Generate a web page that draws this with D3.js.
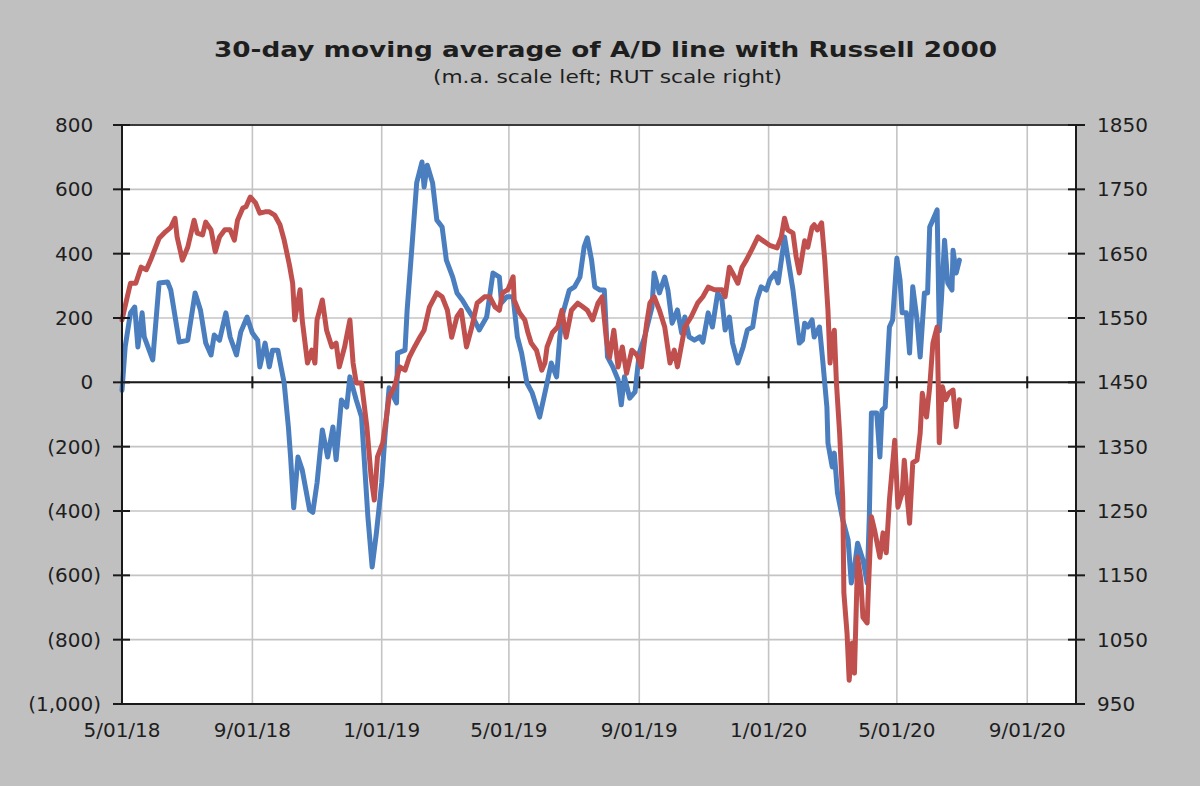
<!DOCTYPE html>
<meta charset="utf-8">
<script src="https://d3js.org/d3.v7.min.js"></script>
<style>
  body { margin: 0; background: #c0c0c0; }
  text { font-family: "DejaVu Sans", Verdana, sans-serif; fill: #1e1e1e; }
</style>
<div id="chart"></div>
<script>

// ---- data ----
var leftTicks  = [800, 600, 400, 200, 0, -200, -400, -600, -800, -1000];
var rightTicks = [1850, 1750, 1650, 1550, 1450, 1350, 1250, 1150, 1050, 950];
var dateTicks  = ["2018-05-01", "2018-09-01", "2019-01-01", "2019-05-01",
                  "2019-09-01", "2020-01-01", "2020-05-01", "2020-09-01"];

// 30-day moving average of the A/D line (left scale)
var adDates = [
  "2018-05-01","2018-05-04","2018-05-09","2018-05-13","2018-05-16","2018-05-20","2018-05-22","2018-05-30",
  "2018-06-05","2018-06-13","2018-06-16","2018-06-24","2018-07-02","2018-07-09","2018-07-14","2018-07-19",
  "2018-07-24","2018-07-27","2018-08-01","2018-08-07","2018-08-11","2018-08-17","2018-08-21","2018-08-27",
  "2018-09-01","2018-09-06","2018-09-08","2018-09-13","2018-09-17","2018-09-20","2018-09-25","2018-09-28",
  "2018-10-01","2018-10-05","2018-10-07","2018-10-10","2018-10-14","2018-10-18","2018-10-25","2018-10-28",
  "2018-11-01","2018-11-06","2018-11-11","2018-11-16","2018-11-19","2018-11-24","2018-11-29","2018-12-02",
  "2018-12-08","2018-12-13","2018-12-19","2018-12-23","2018-12-27","2019-01-01","2019-01-04","2019-01-08",
  "2019-01-15","2019-01-16","2019-01-23","2019-01-25","2019-01-30","2019-02-03","2019-02-08","2019-02-10",
  "2019-02-13","2019-02-18","2019-02-22","2019-02-27","2019-03-03","2019-03-09","2019-03-13","2019-03-18",
  "2019-03-22","2019-03-28","2019-04-03","2019-04-10","2019-04-16","2019-04-22","2019-04-24","2019-04-29",
  "2019-05-05","2019-05-09","2019-05-13","2019-05-18","2019-05-23","2019-05-30","2019-06-06","2019-06-10",
  "2019-06-15","2019-06-18","2019-06-21","2019-06-27","2019-07-02","2019-07-07","2019-07-11","2019-07-14",
  "2019-07-18","2019-07-21","2019-07-26","2019-07-30","2019-08-02","2019-08-07","2019-08-12","2019-08-15",
  "2019-08-18","2019-08-23","2019-08-28","2019-09-01","2019-09-06","2019-09-13","2019-09-15","2019-09-20",
  "2019-09-25","2019-09-28","2019-10-02","2019-10-07","2019-10-11","2019-10-14","2019-10-18","2019-10-23",
  "2019-10-28","2019-10-31","2019-11-05","2019-11-09","2019-11-14","2019-11-18","2019-11-21","2019-11-25",
  "2019-11-28","2019-12-03","2019-12-08","2019-12-12","2019-12-17","2019-12-21","2019-12-25","2019-12-30",
  "2020-01-02","2020-01-07","2020-01-10","2020-01-14","2020-01-16","2020-01-19","2020-01-24","2020-01-27",
  "2020-01-30","2020-02-02","2020-02-04","2020-02-07","2020-02-11","2020-02-13","2020-02-18","2020-02-21",
  "2020-02-25","2020-02-26","2020-03-01","2020-03-03","2020-03-06","2020-03-11","2020-03-16","2020-03-19",
  "2020-03-22","2020-03-25","2020-03-30","2020-04-03","2020-04-05","2020-04-07","2020-04-12","2020-04-15",
  "2020-04-17","2020-04-20","2020-04-22","2020-04-24","2020-04-27","2020-05-01","2020-05-04","2020-05-06",
  "2020-05-10","2020-05-13","2020-05-16","2020-05-20","2020-05-23","2020-05-27","2020-05-30","2020-06-01",
  "2020-06-04","2020-06-08","2020-06-10","2020-06-12","2020-06-15","2020-06-18","2020-06-22","2020-06-23",
  "2020-06-26","2020-06-29"];
var adValues = [
  -25,110,216,234,110,216,141,70,
  309,312,287,125,131,278,225,122,
  85,147,131,216,141,85,156,203,
  153,131,48,122,48,100,100,48,
  -2,-140,-230,-390,-232,-272,-397,-404,
  -313,-148,-232,-139,-241,-55,-77,17,
  -55,-108,-419,-574,-468,-313,-170,-17,
  -64,91,100,225,442,620,685,607,
  675,620,505,483,380,327,278,256,
  234,203,163,203,340,327,247,266,
  266,141,91,-2,-33,-108,-2,60,
  17,141,216,287,297,327,421,449,
  380,297,287,287,79,48,8,-70,
  17,-49,-30,91,141,234,340,278,
  327,287,184,225,153,203,141,131,
  141,125,216,172,278,256,163,203,
  122,60,110,163,172,256,297,287,
  318,340,309,402,452,390,287,203,
  122,131,184,172,194,141,172,70,
  -77,-189,-263,-220,-344,-428,-490,-624,
  -574,-500,-552,-624,-419,-95,-95,-232,
  -86,-77,48,172,194,386,318,216,
  216,91,297,194,79,278,278,483,
  505,536,160,256,442,309,287,411,
  340,380];

// Russell 2000 (right scale)
var rutDates = [
  "2018-05-01","2018-05-06","2018-05-09","2018-05-14","2018-05-19","2018-05-24","2018-05-28","2018-06-05",
  "2018-06-11","2018-06-16","2018-06-20","2018-06-22","2018-06-27","2018-07-02","2018-07-08","2018-07-11",
  "2018-07-16","2018-07-19","2018-07-24","2018-07-28","2018-08-01","2018-08-06","2018-08-11","2018-08-15",
  "2018-08-18","2018-08-23","2018-08-26","2018-08-30","2018-09-04","2018-09-08","2018-09-13","2018-09-17",
  "2018-09-22","2018-09-27","2018-10-01","2018-10-06","2018-10-09","2018-10-11","2018-10-16","2018-10-18",
  "2018-10-23","2018-10-27","2018-10-30","2018-11-01","2018-11-06","2018-11-10","2018-11-15","2018-11-19",
  "2018-11-22","2018-11-27","2018-12-02","2018-12-05","2018-12-08","2018-12-13","2018-12-18","2018-12-22",
  "2018-12-25","2018-12-28","2019-01-02","2019-01-06","2019-01-08","2019-01-13","2019-01-18","2019-01-23",
  "2019-01-27","2019-02-01","2019-02-06","2019-02-10","2019-02-15","2019-02-22","2019-02-27","2019-03-04",
  "2019-03-08","2019-03-13","2019-03-17","2019-03-22","2019-03-27","2019-04-01","2019-04-08","2019-04-13",
  "2019-04-18","2019-04-22","2019-04-25","2019-04-30","2019-05-05","2019-05-06","2019-05-11","2019-05-16",
  "2019-05-19","2019-05-22","2019-05-27","2019-06-01","2019-06-04","2019-06-06","2019-06-11","2019-06-16",
  "2019-06-20","2019-06-24","2019-06-29","2019-07-05","2019-07-10","2019-07-14","2019-07-19","2019-07-24",
  "2019-07-28","2019-08-01","2019-08-04","2019-08-08","2019-08-12","2019-08-16","2019-08-20","2019-08-25",
  "2019-08-30","2019-09-03","2019-09-08","2019-09-11","2019-09-15","2019-09-20","2019-09-25","2019-09-30",
  "2019-10-04","2019-10-07","2019-10-14","2019-10-20","2019-10-26","2019-10-31","2019-11-05","2019-11-11",
  "2019-11-18","2019-11-21","2019-11-25","2019-11-28","2019-12-03","2019-12-07","2019-12-11","2019-12-16",
  "2019-12-22","2019-12-26","2020-01-02","2020-01-09","2020-01-13","2020-01-16","2020-01-19","2020-01-24",
  "2020-01-27","2020-01-30","2020-02-04","2020-02-07","2020-02-11","2020-02-13","2020-02-16","2020-02-20",
  "2020-02-23","2020-02-26","2020-02-28","2020-03-01","2020-03-03","2020-03-05","2020-03-08","2020-03-11",
  "2020-03-12","2020-03-15","2020-03-17","2020-03-20","2020-03-22","2020-03-25","2020-03-28","2020-03-30",
  "2020-04-03","2020-04-04","2020-04-07","2020-04-10","2020-04-15","2020-04-18","2020-04-21","2020-04-24",
  "2020-04-29","2020-05-02","2020-05-06","2020-05-08","2020-05-11","2020-05-13","2020-05-16","2020-05-20",
  "2020-05-23","2020-05-25","2020-05-29","2020-06-01","2020-06-04","2020-06-08","2020-06-09","2020-06-10",
  "2020-06-13","2020-06-16","2020-06-19","2020-06-23","2020-06-26","2020-06-29"];
var rutValues = [
  1547,1583,1604,1604,1629,1625,1640,1674,
  1684,1691,1705,1676,1640,1660,1702,1682,
  1679,1699,1687,1653,1676,1687,1687,1671,
  1702,1721,1723,1738,1729,1713,1715,1715,
  1710,1695,1671,1632,1604,1547,1594,1547,
  1480,1500,1480,1547,1578,1531,1505,1511,
  1474,1505,1547,1480,1449,1449,1381,1303,
  1267,1334,1356,1402,1427,1443,1474,1469,
  1489,1505,1520,1531,1567,1589,1583,1562,
  1520,1552,1562,1505,1536,1573,1583,1583,
  1567,1562,1589,1594,1614,1578,1558,1547,
  1527,1511,1500,1469,1480,1505,1527,1536,
  1562,1520,1562,1573,1567,1562,1547,1573,
  1583,1516,1489,1531,1474,1505,1464,1500,
  1492,1474,1542,1573,1583,1562,1536,1480,
  1500,1474,1536,1552,1573,1583,1598,1594,
  1594,1583,1629,1620,1604,1629,1640,1656,
  1676,1671,1663,1659,1676,1705,1687,1682,
  1645,1620,1670,1660,1691,1695,1687,1698,
  1640,1562,1480,1516,1531,1449,1371,1267,
  1123,1060,987,1045,998,1178,1143,1085,
  1076,1123,1241,1220,1178,1216,1185,1267,
  1360,1256,1278,1329,1267,1231,1325,1329,
  1371,1433,1396,1443,1511,1536,1449,1356,
  1443,1423,1433,1438,1381,1423];

var titleText = "30-day moving average of A/D line with Russell 2000";
var subtitleText = "(m.a. scale left; RUT scale right)";

// ---- layout ----
var width = 1200, height = 786;
var plot = {left: 122, right: 1076, top: 125, bottom: 704};

var parse = d3.utcParse("%Y-%m-%d");
var fmtDate = d3.utcFormat("%-m/%d/%y");

var svg = d3.select("#chart").append("svg")
  .attr("width", width)
  .attr("height", height);

svg.append("rect").attr("width", width).attr("height", height).attr("fill", "#c0c0c0");

var x = d3.scaleUtc()
  .domain([parse("2018-05-01"), parse("2020-10-17")])
  .range([plot.left, plot.right]);

var yL = d3.scaleLinear().domain([-1000, 800]).range([plot.bottom, plot.top]);
var yR = d3.scaleLinear().domain([950, 1850]).range([plot.bottom, plot.top]);

// plot area
svg.append("rect")
  .attr("x", plot.left).attr("y", plot.top)
  .attr("width", plot.right - plot.left).attr("height", plot.bottom - plot.top)
  .attr("fill", "#ffffff");

// gridlines
svg.append("g").selectAll("line")
  .data(leftTicks)
  .enter().append("line")
    .attr("x1", plot.left).attr("x2", plot.right)
    .attr("y1", function(d) { return yL(d); })
    .attr("y2", function(d) { return yL(d); })
    .attr("stroke", "#c4c4c4").attr("stroke-width", 1.6);

svg.append("g").selectAll("line")
  .data(dateTicks)
  .enter().append("line")
    .attr("x1", function(d) { return x(parse(d)); })
    .attr("x2", function(d) { return x(parse(d)); })
    .attr("y1", plot.top).attr("y2", plot.bottom)
    .attr("stroke", "#c4c4c4").attr("stroke-width", 1.6);

// lines
var adData = adDates.map(function(d, i) { return {date: parse(d), value: adValues[i]}; });
var rutData = rutDates.map(function(d, i) { return {date: parse(d), value: rutValues[i]}; });

var lineL = d3.line()
  .x(function(d) { return x(d.date); })
  .y(function(d) { return yL(d.value); });
var lineR = d3.line()
  .x(function(d) { return x(d.date); })
  .y(function(d) { return yR(d.value); });

// zero line with date ticks
svg.append("line")
  .attr("x1", plot.left).attr("x2", plot.right)
  .attr("y1", yL(0)).attr("y2", yL(0))
  .attr("stroke", "#1a1a1a").attr("stroke-width", 2);

svg.append("g").selectAll("line")
  .data(dateTicks)
  .enter().append("line")
    .attr("x1", function(d) { return x(parse(d)); })
    .attr("x2", function(d) { return x(parse(d)); })
    .attr("y1", yL(0) - 6).attr("y2", yL(0) + 6)
    .attr("stroke", "#1a1a1a").attr("stroke-width", 2);

svg.append("path")
  .datum(adData)
  .attr("d", lineL)
  .attr("fill", "none")
  .attr("stroke", "#4a7ebf")
  .attr("stroke-width", 5)
  .attr("stroke-linejoin", "round")
  .attr("stroke-linecap", "round");

svg.append("path")
  .datum(rutData)
  .attr("d", lineR)
  .attr("fill", "none")
  .attr("stroke", "#c0504d")
  .attr("stroke-width", 5)
  .attr("stroke-linejoin", "round")
  .attr("stroke-linecap", "round");

// plot frame
svg.append("line")
  .attr("x1", plot.left).attr("x2", plot.right)
  .attr("y1", plot.top).attr("y2", plot.top)
  .attr("stroke", "#3a3a3a").attr("stroke-width", 2);
svg.append("line")
  .attr("x1", plot.left).attr("x2", plot.right)
  .attr("y1", plot.bottom).attr("y2", plot.bottom)
  .attr("stroke", "#1a1a1a").attr("stroke-width", 2);
svg.append("line")
  .attr("x1", plot.left).attr("x2", plot.left)
  .attr("y1", plot.top).attr("y2", plot.bottom)
  .attr("stroke", "#1a1a1a").attr("stroke-width", 2);
svg.append("line")
  .attr("x1", plot.right).attr("x2", plot.right)
  .attr("y1", plot.top).attr("y2", plot.bottom)
  .attr("stroke", "#1a1a1a").attr("stroke-width", 2);

// left axis ticks + labels
svg.append("g").selectAll("line")
  .data(leftTicks)
  .enter().append("line")
    .attr("x1", plot.left - 9).attr("x2", plot.left + 8)
    .attr("y1", function(d) { return yL(d); })
    .attr("y2", function(d) { return yL(d); })
    .attr("stroke", "#1a1a1a").attr("stroke-width", 2);

var fmtNum = d3.format(",");
var leftLabels = svg.append("g").selectAll("text")
  .data(leftTicks)
  .enter().append("text")
    .attr("x", 101)
    .attr("y", function(d) { return yL(d) + 7; })
    .attr("text-anchor", "end")
    .style("font-size", "20px");
leftLabels.append("tspan")
  .text(function(d) { return d < 0 ? "(" + fmtNum(-d) + ")" : fmtNum(d); });
leftLabels.filter(function(d) { return d >= 0; })
  .append("tspan").attr("fill-opacity", 0).text(")");

// right axis ticks + labels
svg.append("g").selectAll("line")
  .data(rightTicks)
  .enter().append("line")
    .attr("x1", plot.right - 8).attr("x2", plot.right + 9)
    .attr("y1", function(d) { return yR(d); })
    .attr("y2", function(d) { return yR(d); })
    .attr("stroke", "#1a1a1a").attr("stroke-width", 2);

svg.append("g").selectAll("text")
  .data(rightTicks)
  .enter().append("text")
    .attr("x", 1097)
    .attr("y", function(d) { return yR(d) + 7; })
    .style("font-size", "20px")
    .text(function(d) { return d; });

// date labels
svg.append("g").selectAll("text")
  .data(dateTicks)
  .enter().append("text")
    .attr("x", function(d) { return x(parse(d)); })
    .attr("y", 737)
    .attr("text-anchor", "middle")
    .style("font-size", "20px")
    .text(function(d) { return fmtDate(parse(d)); });

// titles (the original text is set wide)
svg.append("text")
  .attr("x", 214).attr("y", 57)
  .attr("textLength", 783)
  .attr("lengthAdjust", "spacingAndGlyphs")
  .style("font-size", "22px")
  .style("font-weight", "bold")
  .text(titleText);

svg.append("text")
  .attr("x", 433).attr("y", 83)
  .attr("textLength", 349)
  .attr("lengthAdjust", "spacingAndGlyphs")
  .style("font-size", "17px")
  .text(subtitleText);

</script>
